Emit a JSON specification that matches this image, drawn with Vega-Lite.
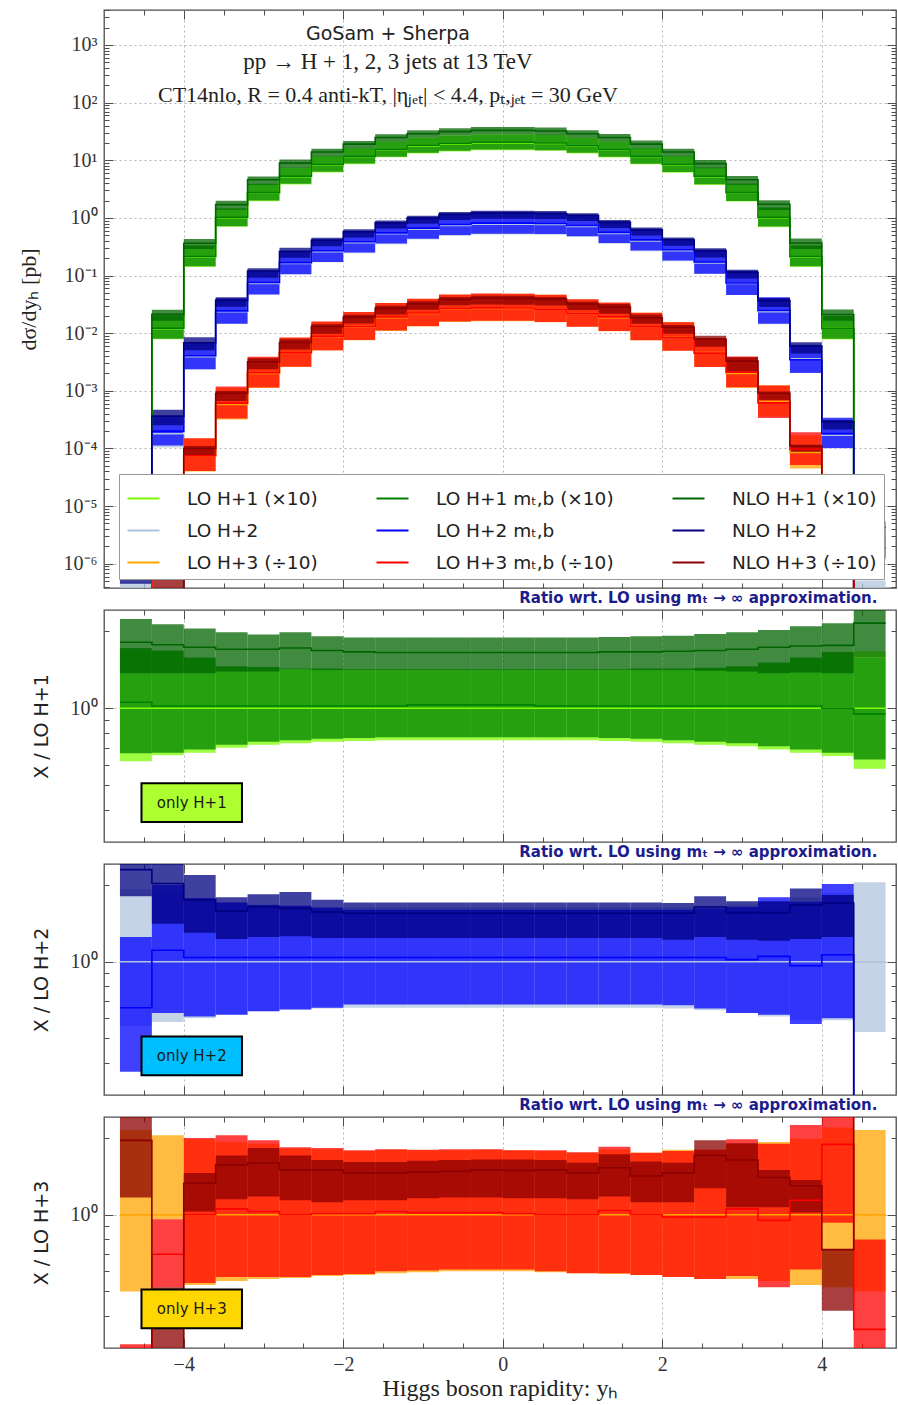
{
  "$schema": "https://vega.github.io/schema/vega-lite/v6.json",
  "background": "white",
  "padding": {"left": 16, "top": 8, "right": 2, "bottom": 2},
  "bounds": "flush",
  "spacing": 22,
  "config": {
    "view": {"stroke": "#4d4d4d", "strokeWidth": 1.3},
    "axis": {"domain": false, "tickColor": "#4d4d4d", "tickWidth": 1, "gridColor": "#b5b5b5", "gridDash": [2, 3], "gridWidth": 1, "labelFont": "Liberation Serif", "labelFontSize": 20, "labelColor": "#333333", "titleFontWeight": "normal", "titleColor": "#222222", "labelOverlap": false},
    "text": {"color": "#222222"}
  },
  "resolve": {"scale": {"color": "independent", "fill": "independent", "fillOpacity": "independent"}, "legend": {"color": "independent"}},
  "datasets": {
    "h": [
      {"k":"LO1","x0":-4.8,"x1":-4.4,"lo":1.24e-6,"c":2e-6,"hi":3.4e-6,"rlo":0.62,"rc":1,"rhi":1.7},
      {"k":"LO1","x0":-4.4,"x1":-4,"lo":0.00786,"c":0.012,"hi":0.02,"rlo":0.655,"rc":1,"rhi":1.67},
      {"k":"LO1","x0":-4,"x1":-3.6,"lo":0.141,"c":0.21,"hi":0.33,"rlo":0.67,"rc":1,"rhi":1.57},
      {"k":"LO1","x0":-3.6,"x1":-3.2,"lo":0.7,"c":1,"hi":1.45,"rlo":0.7,"rc":1,"rhi":1.45},
      {"k":"LO1","x0":-3.2,"x1":-2.8,"lo":1.94,"c":2.7,"hi":3.89,"rlo":0.72,"rc":1,"rhi":1.44},
      {"k":"LO1","x0":-2.8,"x1":-2.4,"lo":3.8,"c":5.2,"hi":7.38,"rlo":0.73,"rc":1,"rhi":1.42},
      {"k":"LO1","x0":-2.4,"x1":-2,"lo":6.14,"c":8.3,"hi":11.8,"rlo":0.74,"rc":1,"rhi":1.42},
      {"k":"LO1","x0":-2,"x1":-1.6,"lo":8.57,"c":11.5,"hi":16.2,"rlo":0.745,"rc":1,"rhi":1.41},
      {"k":"LO1","x0":-1.6,"x1":-1.2,"lo":11.25,"c":15,"hi":21.2,"rlo":0.75,"rc":1,"rhi":1.41},
      {"k":"LO1","x0":-1.2,"x1":-0.8,"lo":13.1,"c":17.5,"hi":24.7,"rlo":0.75,"rc":1,"rhi":1.41},
      {"k":"LO1","x0":-0.8,"x1":-0.4,"lo":14.25,"c":19,"hi":26.8,"rlo":0.75,"rc":1,"rhi":1.41},
      {"k":"LO1","x0":-0.4,"x1":0,"lo":15,"c":20,"hi":28.2,"rlo":0.75,"rc":1,"rhi":1.41},
      {"k":"LO1","x0":0,"x1":0.4,"lo":15,"c":20,"hi":28.2,"rlo":0.75,"rc":1,"rhi":1.41},
      {"k":"LO1","x0":0.4,"x1":0.8,"lo":14.6,"c":19.5,"hi":27.5,"rlo":0.75,"rc":1,"rhi":1.41},
      {"k":"LO1","x0":0.8,"x1":1.2,"lo":13.1,"c":17.5,"hi":24.7,"rlo":0.75,"rc":1,"rhi":1.41},
      {"k":"LO1","x0":1.2,"x1":1.6,"lo":11.2,"c":15,"hi":21.2,"rlo":0.745,"rc":1,"rhi":1.41},
      {"k":"LO1","x0":1.6,"x1":2,"lo":8.51,"c":11.5,"hi":16.3,"rlo":0.74,"rc":1,"rhi":1.42},
      {"k":"LO1","x0":2,"x1":2.4,"lo":6.06,"c":8.3,"hi":11.8,"rlo":0.73,"rc":1,"rhi":1.42},
      {"k":"LO1","x0":2.4,"x1":2.8,"lo":3.74,"c":5.2,"hi":7.44,"rlo":0.72,"rc":1,"rhi":1.43},
      {"k":"LO1","x0":2.8,"x1":3.2,"lo":1.92,"c":2.7,"hi":3.92,"rlo":0.71,"rc":1,"rhi":1.45},
      {"k":"LO1","x0":3.2,"x1":3.6,"lo":0.69,"c":1,"hi":1.5,"rlo":0.69,"rc":1,"rhi":1.5},
      {"k":"LO1","x0":3.6,"x1":4,"lo":0.141,"c":0.21,"hi":0.33,"rlo":0.67,"rc":1,"rhi":1.57},
      {"k":"LO1","x0":4,"x1":4.4,"lo":0.0078,"c":0.012,"hi":0.0198,"rlo":0.65,"rc":1,"rhi":1.65},
      {"k":"LO1","x0":4.4,"x1":4.8,"lo":1.16e-6,"c":2e-6,"hi":3.3e-6,"rlo":0.58,"rc":1,"rhi":1.67},

      {"k":"MT1","x0":-4.8,"x1":-4.4,"lo":1.33e-6,"c":2.11e-6,"hi":3.44e-6,"rlo":0.667,"rc":1.055,"rhi":1.72},
      {"k":"MT1","x0":-4.4,"x1":-4,"lo":0.00804,"c":0.01224,"hi":0.0202,"rlo":0.67,"rc":1.02,"rhi":1.68},
      {"k":"MT1","x0":-4,"x1":-3.6,"lo":0.145,"c":0.214,"hi":0.332,"rlo":0.69,"rc":1.02,"rhi":1.58},
      {"k":"MT1","x0":-3.6,"x1":-3.2,"lo":0.72,"c":1.02,"hi":1.46,"rlo":0.72,"rc":1.02,"rhi":1.46},
      {"k":"MT1","x0":-3.2,"x1":-2.8,"lo":2,"c":2.75,"hi":3.92,"rlo":0.74,"rc":1.02,"rhi":1.45},
      {"k":"MT1","x0":-2.8,"x1":-2.4,"lo":3.9,"c":5.3,"hi":7.44,"rlo":0.75,"rc":1.02,"rhi":1.43},
      {"k":"MT1","x0":-2.4,"x1":-2,"lo":6.31,"c":8.47,"hi":11.9,"rlo":0.76,"rc":1.02,"rhi":1.43},
      {"k":"MT1","x0":-2,"x1":-1.6,"lo":8.8,"c":11.7,"hi":16.3,"rlo":0.765,"rc":1.02,"rhi":1.42},
      {"k":"MT1","x0":-1.6,"x1":-1.2,"lo":11.55,"c":15.3,"hi":21.3,"rlo":0.77,"rc":1.02,"rhi":1.42},
      {"k":"MT1","x0":-1.2,"x1":-0.8,"lo":13.5,"c":18,"hi":24.9,"rlo":0.77,"rc":1.03,"rhi":1.42},
      {"k":"MT1","x0":-0.8,"x1":-0.4,"lo":14.6,"c":19.6,"hi":27,"rlo":0.77,"rc":1.03,"rhi":1.42},
      {"k":"MT1","x0":-0.4,"x1":0,"lo":15.4,"c":20.6,"hi":28.4,"rlo":0.77,"rc":1.03,"rhi":1.42},
      {"k":"MT1","x0":0,"x1":0.4,"lo":15.4,"c":20.6,"hi":28.4,"rlo":0.77,"rc":1.03,"rhi":1.42},
      {"k":"MT1","x0":0.4,"x1":0.8,"lo":15,"c":19.9,"hi":27.7,"rlo":0.77,"rc":1.02,"rhi":1.42},
      {"k":"MT1","x0":0.8,"x1":1.2,"lo":13.5,"c":17.9,"hi":24.9,"rlo":0.77,"rc":1.02,"rhi":1.42},
      {"k":"MT1","x0":1.2,"x1":1.6,"lo":11.5,"c":15.3,"hi":21.3,"rlo":0.765,"rc":1.02,"rhi":1.42},
      {"k":"MT1","x0":1.6,"x1":2,"lo":8.74,"c":11.7,"hi":16.4,"rlo":0.76,"rc":1.02,"rhi":1.43},
      {"k":"MT1","x0":2,"x1":2.4,"lo":6.23,"c":8.47,"hi":11.9,"rlo":0.75,"rc":1.02,"rhi":1.43},
      {"k":"MT1","x0":2.4,"x1":2.8,"lo":3.85,"c":5.3,"hi":7.49,"rlo":0.74,"rc":1.02,"rhi":1.44},
      {"k":"MT1","x0":2.8,"x1":3.2,"lo":1.97,"c":2.75,"hi":3.94,"rlo":0.73,"rc":1.02,"rhi":1.46},
      {"k":"MT1","x0":3.2,"x1":3.6,"lo":0.71,"c":1.02,"hi":1.51,"rlo":0.71,"rc":1.02,"rhi":1.51},
      {"k":"MT1","x0":3.6,"x1":4,"lo":0.145,"c":0.214,"hi":0.332,"rlo":0.69,"rc":1.02,"rhi":1.58},
      {"k":"MT1","x0":4,"x1":4.4,"lo":0.00804,"c":0.012,"hi":0.0199,"rlo":0.67,"rc":1,"rhi":1.66},
      {"k":"MT1","x0":4.4,"x1":4.8,"lo":1.26e-6,"c":1.9e-6,"hi":3.16e-6,"rlo":0.63,"rc":0.95,"rhi":1.58},

      {"k":"NLO1","x0":-4.8,"x1":-4.4,"lo":2.74e-6,"c":3.62e-6,"hi":4.46e-6,"rlo":1.37,"rc":1.81,"rhi":2.23},
      {"k":"NLO1","x0":-4.4,"x1":-4,"lo":0.0164,"c":0.0212,"hi":0.0256,"rlo":1.37,"rc":1.77,"rhi":2.13},
      {"k":"NLO1","x0":-4,"x1":-3.6,"lo":0.288,"c":0.363,"hi":0.43,"rlo":1.37,"rc":1.73,"rhi":2.05},
      {"k":"NLO1","x0":-3.6,"x1":-3.2,"lo":1.39,"c":1.7,"hi":1.98,"rlo":1.39,"rc":1.7,"rhi":1.98},
      {"k":"NLO1","x0":-3.2,"x1":-2.8,"lo":3.75,"c":4.59,"hi":5.24,"rlo":1.39,"rc":1.7,"rhi":1.94},
      {"k":"NLO1","x0":-2.8,"x1":-2.4,"lo":7.38,"c":8.94,"hi":10.3,"rlo":1.42,"rc":1.72,"rhi":1.98},
      {"k":"NLO1","x0":-2.4,"x1":-2,"lo":11.7,"c":13.9,"hi":15.9,"rlo":1.41,"rc":1.68,"rhi":1.91},
      {"k":"NLO1","x0":-2,"x1":-1.6,"lo":16.2,"c":19.1,"hi":21.7,"rlo":1.41,"rc":1.66,"rhi":1.89},
      {"k":"NLO1","x0":-1.6,"x1":-1.2,"lo":21.2,"c":24.8,"hi":28.4,"rlo":1.41,"rc":1.65,"rhi":1.89},
      {"k":"NLO1","x0":-1.2,"x1":-0.8,"lo":24.7,"c":28.9,"hi":33.1,"rlo":1.41,"rc":1.65,"rhi":1.89},
      {"k":"NLO1","x0":-0.8,"x1":-0.4,"lo":26.8,"c":31.4,"hi":35.9,"rlo":1.41,"rc":1.65,"rhi":1.89},
      {"k":"NLO1","x0":-0.4,"x1":0,"lo":28.2,"c":33,"hi":37.8,"rlo":1.41,"rc":1.65,"rhi":1.89},
      {"k":"NLO1","x0":0,"x1":0.4,"lo":28.2,"c":33,"hi":37.8,"rlo":1.41,"rc":1.65,"rhi":1.89},
      {"k":"NLO1","x0":0.4,"x1":0.8,"lo":27.5,"c":32.2,"hi":36.9,"rlo":1.41,"rc":1.65,"rhi":1.89},
      {"k":"NLO1","x0":0.8,"x1":1.2,"lo":24.7,"c":28.9,"hi":33.1,"rlo":1.41,"rc":1.65,"rhi":1.89},
      {"k":"NLO1","x0":1.2,"x1":1.6,"lo":21.2,"c":24.9,"hi":28.5,"rlo":1.41,"rc":1.66,"rhi":1.9},
      {"k":"NLO1","x0":1.6,"x1":2,"lo":16.2,"c":19.1,"hi":22,"rlo":1.41,"rc":1.66,"rhi":1.91},
      {"k":"NLO1","x0":2,"x1":2.4,"lo":11.7,"c":13.9,"hi":15.9,"rlo":1.41,"rc":1.67,"rhi":1.92},
      {"k":"NLO1","x0":2.4,"x1":2.8,"lo":7.28,"c":8.74,"hi":10.1,"rlo":1.4,"rc":1.68,"rhi":1.95},
      {"k":"NLO1","x0":2.8,"x1":3.2,"lo":3.75,"c":4.59,"hi":5.35,"rlo":1.39,"rc":1.7,"rhi":1.98},
      {"k":"NLO1","x0":3.2,"x1":3.6,"lo":1.37,"c":1.73,"hi":2.02,"rlo":1.37,"rc":1.73,"rhi":2.02},
      {"k":"NLO1","x0":3.6,"x1":4,"lo":0.29,"c":0.368,"hi":0.439,"rlo":1.38,"rc":1.75,"rhi":2.09},
      {"k":"NLO1","x0":4,"x1":4.4,"lo":0.0164,"c":0.0211,"hi":0.0258,"rlo":1.37,"rc":1.76,"rhi":2.15},
      {"k":"NLO1","x0":4.4,"x1":4.8,"lo":3.16e-6,"c":4.3e-6,"hi":5.4e-6,"rlo":1.58,"rc":2.15,"rhi":2.7},

      {"k":"LO2","x0":-4.8,"x1":-4.4,"lo":1.4e-7,"c":2.5e-7,"hi":4.83e-7,"rlo":0.56,"rc":1,"rhi":1.93},
      {"k":"LO2","x0":-4.4,"x1":-4,"lo":1.04e-4,"c":1.8e-4,"hi":3.35e-4,"rlo":0.58,"rc":1,"rhi":1.86},
      {"k":"LO2","x0":-4,"x1":-3.6,"lo":0.00234,"c":0.0039,"hi":0.00683,"rlo":0.6,"rc":1,"rhi":1.75},
      {"k":"LO2","x0":-3.6,"x1":-3.2,"lo":0.0146,"c":0.0235,"hi":0.0402,"rlo":0.62,"rc":1,"rhi":1.71},
      {"k":"LO2","x0":-3.2,"x1":-2.8,"lo":0.0467,"c":0.073,"hi":0.123,"rlo":0.64,"rc":1,"rhi":1.68},
      {"k":"LO2","x0":-2.8,"x1":-2.4,"lo":0.105,"c":0.162,"hi":0.269,"rlo":0.65,"rc":1,"rhi":1.66},
      {"k":"LO2","x0":-2.4,"x1":-2,"lo":0.17,"c":0.26,"hi":0.426,"rlo":0.655,"rc":1,"rhi":1.64},
      {"k":"LO2","x0":-2,"x1":-1.6,"lo":0.244,"c":0.37,"hi":0.607,"rlo":0.66,"rc":1,"rhi":1.64},
      {"k":"LO2","x0":-1.6,"x1":-1.2,"lo":0.35,"c":0.53,"hi":0.869,"rlo":0.66,"rc":1,"rhi":1.64},
      {"k":"LO2","x0":-1.2,"x1":-0.8,"lo":0.422,"c":0.64,"hi":1.05,"rlo":0.66,"rc":1,"rhi":1.64},
      {"k":"LO2","x0":-0.8,"x1":-0.4,"lo":0.488,"c":0.74,"hi":1.21,"rlo":0.66,"rc":1,"rhi":1.64},
      {"k":"LO2","x0":-0.4,"x1":0,"lo":0.515,"c":0.78,"hi":1.28,"rlo":0.66,"rc":1,"rhi":1.64},
      {"k":"LO2","x0":0,"x1":0.4,"lo":0.515,"c":0.78,"hi":1.28,"rlo":0.66,"rc":1,"rhi":1.64},
      {"k":"LO2","x0":0.4,"x1":0.8,"lo":0.508,"c":0.77,"hi":1.26,"rlo":0.66,"rc":1,"rhi":1.64},
      {"k":"LO2","x0":0.8,"x1":1.2,"lo":0.469,"c":0.71,"hi":1.16,"rlo":0.66,"rc":1,"rhi":1.64},
      {"k":"LO2","x0":1.2,"x1":1.6,"lo":0.356,"c":0.54,"hi":0.886,"rlo":0.66,"rc":1,"rhi":1.64},
      {"k":"LO2","x0":1.6,"x1":2,"lo":0.264,"c":0.4,"hi":0.656,"rlo":0.66,"rc":1,"rhi":1.64},
      {"k":"LO2","x0":2,"x1":2.4,"lo":0.177,"c":0.27,"hi":0.443,"rlo":0.655,"rc":1,"rhi":1.64},
      {"k":"LO2","x0":2.4,"x1":2.8,"lo":0.106,"c":0.165,"hi":0.274,"rlo":0.645,"rc":1,"rhi":1.66},
      {"k":"LO2","x0":2.8,"x1":3.2,"lo":0.046,"c":0.073,"hi":0.123,"rlo":0.63,"rc":1,"rhi":1.68},
      {"k":"LO2","x0":3.2,"x1":3.6,"lo":0.0143,"c":0.0235,"hi":0.0404,"rlo":0.61,"rc":1,"rhi":1.72},
      {"k":"LO2","x0":3.6,"x1":4,"lo":0.00212,"c":0.0036,"hi":0.00644,"rlo":0.59,"rc":1,"rhi":1.79},
      {"k":"LO2","x0":4,"x1":4.4,"lo":1.0e-4,"c":1.7e-4,"hi":3.16e-4,"rlo":0.59,"rc":1,"rhi":1.86},
      {"k":"LO2","x0":4.4,"x1":4.8,"lo":1.33e-7,"c":2.5e-7,"hi":5.13e-7,"rlo":0.53,"rc":1,"rhi":2.05},

      {"k":"MT2","x0":-4.8,"x1":-4.4,"lo":9.3e-8,"c":1.65e-7,"hi":3.1e-7,"rlo":0.37,"rc":0.66,"rhi":1.25},
      {"k":"MT2","x0":-4.4,"x1":-4,"lo":1.13e-4,"c":2.0e-4,"hi":3.6e-4,"rlo":0.63,"rc":1.11,"rhi":2.0},
      {"k":"MT2","x0":-4,"x1":-3.6,"lo":0.00238,"c":0.00406,"hi":0.00694,"rlo":0.61,"rc":1.04,"rhi":1.78},
      {"k":"MT2","x0":-3.6,"x1":-3.2,"lo":0.0146,"c":0.0244,"hi":0.0402,"rlo":0.62,"rc":1.04,"rhi":1.71},
      {"k":"MT2","x0":-3.2,"x1":-2.8,"lo":0.0467,"c":0.0759,"hi":0.122,"rlo":0.64,"rc":1.04,"rhi":1.67},
      {"k":"MT2","x0":-2.8,"x1":-2.4,"lo":0.105,"c":0.168,"hi":0.269,"rlo":0.65,"rc":1.04,"rhi":1.66},
      {"k":"MT2","x0":-2.4,"x1":-2,"lo":0.172,"c":0.27,"hi":0.424,"rlo":0.66,"rc":1.04,"rhi":1.63},
      {"k":"MT2","x0":-2,"x1":-1.6,"lo":0.252,"c":0.385,"hi":0.592,"rlo":0.68,"rc":1.04,"rhi":1.6},
      {"k":"MT2","x0":-1.6,"x1":-1.2,"lo":0.36,"c":0.551,"hi":0.848,"rlo":0.68,"rc":1.04,"rhi":1.6},
      {"k":"MT2","x0":-1.2,"x1":-0.8,"lo":0.435,"c":0.666,"hi":1.02,"rlo":0.68,"rc":1.04,"rhi":1.6},
      {"k":"MT2","x0":-0.8,"x1":-0.4,"lo":0.503,"c":0.77,"hi":1.18,"rlo":0.68,"rc":1.04,"rhi":1.6},
      {"k":"MT2","x0":-0.4,"x1":0,"lo":0.53,"c":0.811,"hi":1.25,"rlo":0.68,"rc":1.04,"rhi":1.6},
      {"k":"MT2","x0":0,"x1":0.4,"lo":0.53,"c":0.811,"hi":1.25,"rlo":0.68,"rc":1.04,"rhi":1.6},
      {"k":"MT2","x0":0.4,"x1":0.8,"lo":0.524,"c":0.801,"hi":1.23,"rlo":0.68,"rc":1.04,"rhi":1.6},
      {"k":"MT2","x0":0.8,"x1":1.2,"lo":0.483,"c":0.738,"hi":1.14,"rlo":0.68,"rc":1.04,"rhi":1.6},
      {"k":"MT2","x0":1.2,"x1":1.6,"lo":0.367,"c":0.562,"hi":0.864,"rlo":0.68,"rc":1.04,"rhi":1.6},
      {"k":"MT2","x0":1.6,"x1":2,"lo":0.272,"c":0.416,"hi":0.64,"rlo":0.68,"rc":1.04,"rhi":1.6},
      {"k":"MT2","x0":2,"x1":2.4,"lo":0.182,"c":0.281,"hi":0.432,"rlo":0.675,"rc":1.04,"rhi":1.6},
      {"k":"MT2","x0":2.4,"x1":2.8,"lo":0.108,"c":0.172,"hi":0.267,"rlo":0.655,"rc":1.04,"rhi":1.62},
      {"k":"MT2","x0":2.8,"x1":3.2,"lo":0.046,"c":0.0745,"hi":0.12,"rlo":0.63,"rc":1.02,"rhi":1.64},
      {"k":"MT2","x0":3.2,"x1":3.6,"lo":0.0146,"c":0.0247,"hi":0.0421,"rlo":0.62,"rc":1.05,"rhi":1.79},
      {"k":"MT2","x0":3.6,"x1":4,"lo":0.00205,"c":0.00347,"hi":0.00619,"rlo":0.57,"rc":0.965,"rhi":1.72},
      {"k":"MT2","x0":4,"x1":4.4,"lo":1.02e-4,"c":1.81e-4,"hi":3.43e-4,"rlo":0.6,"rc":1.065,"rhi":2.02},
      {"k":"MT2","x0":4.4,"x1":4.8,"lo":1e-9,"c":1e-9,"hi":1e-9,"rlo":0.01,"rc":0.01,"rhi":0.01},

      {"k":"NLO2","x0":-4.8,"x1":-4.4,"lo":4.5e-7,"c":5.75e-7,"hi":6.5e-7,"rlo":1.81,"rc":2.3,"rhi":2.6},
      {"k":"NLO2","x0":-4.4,"x1":-4,"lo":2.54e-4,"c":3.65e-4,"hi":4.68e-4,"rlo":1.41,"rc":2.03,"rhi":2.6},
      {"k":"NLO2","x0":-4,"x1":-3.6,"lo":0.00507,"c":0.00683,"hi":0.00854,"rlo":1.3,"rc":1.75,"rhi":2.19},
      {"k":"NLO2","x0":-3.6,"x1":-3.2,"lo":0.0289,"c":0.0371,"hi":0.0421,"rlo":1.23,"rc":1.58,"rhi":1.79},
      {"k":"NLO2","x0":-3.2,"x1":-2.8,"lo":0.0913,"c":0.12,"hi":0.134,"rlo":1.25,"rc":1.64,"rhi":1.84},
      {"k":"NLO2","x0":-2.8,"x1":-2.4,"lo":0.204,"c":0.262,"hi":0.305,"rlo":1.26,"rc":1.62,"rhi":1.88},
      {"k":"NLO2","x0":-2.4,"x1":-2,"lo":0.322,"c":0.408,"hi":0.455,"rlo":1.24,"rc":1.57,"rhi":1.75},
      {"k":"NLO2","x0":-2,"x1":-1.6,"lo":0.459,"c":0.574,"hi":0.633,"rlo":1.24,"rc":1.55,"rhi":1.71},
      {"k":"NLO2","x0":-1.6,"x1":-1.2,"lo":0.657,"c":0.822,"hi":0.906,"rlo":1.24,"rc":1.55,"rhi":1.71},
      {"k":"NLO2","x0":-1.2,"x1":-0.8,"lo":0.794,"c":0.992,"hi":1.09,"rlo":1.24,"rc":1.55,"rhi":1.71},
      {"k":"NLO2","x0":-0.8,"x1":-0.4,"lo":0.918,"c":1.15,"hi":1.27,"rlo":1.24,"rc":1.55,"rhi":1.71},
      {"k":"NLO2","x0":-0.4,"x1":0,"lo":0.967,"c":1.21,"hi":1.33,"rlo":1.24,"rc":1.55,"rhi":1.71},
      {"k":"NLO2","x0":0,"x1":0.4,"lo":0.967,"c":1.21,"hi":1.33,"rlo":1.24,"rc":1.55,"rhi":1.71},
      {"k":"NLO2","x0":0.4,"x1":0.8,"lo":0.955,"c":1.19,"hi":1.32,"rlo":1.24,"rc":1.55,"rhi":1.71},
      {"k":"NLO2","x0":0.8,"x1":1.2,"lo":0.88,"c":1.1,"hi":1.21,"rlo":1.24,"rc":1.55,"rhi":1.71},
      {"k":"NLO2","x0":1.2,"x1":1.6,"lo":0.67,"c":0.837,"hi":0.923,"rlo":1.24,"rc":1.55,"rhi":1.71},
      {"k":"NLO2","x0":1.6,"x1":2,"lo":0.496,"c":0.62,"hi":0.684,"rlo":1.24,"rc":1.55,"rhi":1.71},
      {"k":"NLO2","x0":2,"x1":2.4,"lo":0.329,"c":0.419,"hi":0.459,"rlo":1.22,"rc":1.55,"rhi":1.7},
      {"k":"NLO2","x0":2.4,"x1":2.8,"lo":0.206,"c":0.271,"hi":0.299,"rlo":1.25,"rc":1.64,"rhi":1.81},
      {"k":"NLO2","x0":2.8,"x1":3.2,"lo":0.0891,"c":0.114,"hi":0.126,"rlo":1.22,"rc":1.56,"rhi":1.73},
      {"k":"NLO2","x0":3.2,"x1":3.6,"lo":0.0284,"c":0.0367,"hi":0.0407,"rlo":1.21,"rc":1.56,"rhi":1.73},
      {"k":"NLO2","x0":3.6,"x1":4,"lo":0.00443,"c":0.00601,"hi":0.00698,"rlo":1.23,"rc":1.67,"rhi":1.94},
      {"k":"NLO2","x0":4,"x1":4.4,"lo":2.13e-4,"c":2.89e-4,"hi":3.11e-4,"rlo":1.25,"rc":1.7,"rhi":1.83},
      {"k":"NLO2","x0":4.4,"x1":4.8,"lo":1e-9,"c":1e-9,"hi":1e-9,"rlo":0.01,"rc":0.01,"rhi":0.01},

      {"k":"LO3","x0":-4.8,"x1":-4.4,"lo":5e-8,"c":1e-7,"hi":2.15e-7,"rlo":0.5,"rc":1,"rhi":2.15},
      {"k":"LO3","x0":-4.4,"x1":-4,"lo":1.06e-6,"c":1.1e-6,"hi":2.26e-6,"rlo":0.96,"rc":1,"rhi":2.05},
      {"k":"LO3","x0":-4,"x1":-3.6,"lo":3.98e-5,"c":7.5e-5,"hi":1.49e-4,"rlo":0.53,"rc":1,"rhi":1.98},
      {"k":"LO3","x0":-3.6,"x1":-3.2,"lo":3.19e-4,"c":5.8e-4,"hi":1.12e-3,"rlo":0.55,"rc":1,"rhi":1.93},
      {"k":"LO3","x0":-3.2,"x1":-2.8,"lo":1.12e-3,"c":2.0e-3,"hi":3.8e-3,"rlo":0.56,"rc":1,"rhi":1.9},
      {"k":"LO3","x0":-2.8,"x1":-2.4,"lo":2.6e-3,"c":4.6e-3,"hi":8.37e-3,"rlo":0.565,"rc":1,"rhi":1.82},
      {"k":"LO3","x0":-2.4,"x1":-2,"lo":5.0e-3,"c":8.7e-3,"hi":0.01575,"rlo":0.575,"rc":1,"rhi":1.81},
      {"k":"LO3","x0":-2,"x1":-1.6,"lo":7.54e-3,"c":0.013,"hi":0.0231,"rlo":0.58,"rc":1,"rhi":1.78},
      {"k":"LO3","x0":-1.6,"x1":-1.2,"lo":0.0109,"c":0.0185,"hi":0.0333,"rlo":0.59,"rc":1,"rhi":1.8},
      {"k":"LO3","x0":-1.2,"x1":-0.8,"lo":0.0131,"c":0.022,"hi":0.0394,"rlo":0.595,"rc":1,"rhi":1.79},
      {"k":"LO3","x0":-0.8,"x1":-0.4,"lo":0.0156,"c":0.026,"hi":0.0465,"rlo":0.6,"rc":1,"rhi":1.79},
      {"k":"LO3","x0":-0.4,"x1":0,"lo":0.0162,"c":0.027,"hi":0.0486,"rlo":0.6,"rc":1,"rhi":1.8},
      {"k":"LO3","x0":0,"x1":0.4,"lo":0.0162,"c":0.027,"hi":0.0483,"rlo":0.6,"rc":1,"rhi":1.79},
      {"k":"LO3","x0":0.4,"x1":0.8,"lo":0.0155,"c":0.026,"hi":0.0463,"rlo":0.595,"rc":1,"rhi":1.78},
      {"k":"LO3","x0":0.8,"x1":1.2,"lo":0.013,"c":0.022,"hi":0.0385,"rlo":0.59,"rc":1,"rhi":1.75},
      {"k":"LO3","x0":1.2,"x1":1.6,"lo":0.0108,"c":0.0185,"hi":0.0333,"rlo":0.585,"rc":1,"rhi":1.8},
      {"k":"LO3","x0":1.6,"x1":2,"lo":7.54e-3,"c":0.013,"hi":0.02275,"rlo":0.58,"rc":1,"rhi":1.75},
      {"k":"LO3","x0":2,"x1":2.4,"lo":4.96e-3,"c":0.0087,"hi":0.01566,"rlo":0.57,"rc":1,"rhi":1.8},
      {"k":"LO3","x0":2.4,"x1":2.8,"lo":2.58e-3,"c":0.0046,"hi":8.28e-3,"rlo":0.56,"rc":1,"rhi":1.8},
      {"k":"LO3","x0":2.8,"x1":3.2,"lo":1.12e-3,"c":0.002,"hi":3.8e-3,"rlo":0.56,"rc":1,"rhi":1.9},
      {"k":"LO3","x0":3.2,"x1":3.6,"lo":3.58e-4,"c":6.5e-4,"hi":1.25e-3,"rlo":0.55,"rc":1,"rhi":1.93},
      {"k":"LO3","x0":3.6,"x1":4,"lo":4.5e-5,"c":8.5e-5,"hi":1.69e-4,"rlo":0.53,"rc":1,"rhi":1.99},
      {"k":"LO3","x0":4,"x1":4.4,"lo":2.6e-6,"c":5e-6,"hi":1.1e-5,"rlo":0.52,"rc":1,"rhi":2.2},
      {"k":"LO3","x0":4.4,"x1":4.8,"lo":2.5e-8,"c":5e-8,"hi":1.08e-7,"rlo":0.5,"rc":1,"rhi":2.15},

      {"k":"MT3","x0":-4.8,"x1":-4.4,"lo":5e-9,"c":1e-8,"hi":3.1e-8,"rlo":0.05,"rc":0.1,"rhi":0.31},
      {"k":"MT3","x0":-4.4,"x1":-4,"lo":5.7e-7,"c":7.7e-7,"hi":1.06e-6,"rlo":0.52,"rc":0.7,"rhi":0.96},
      {"k":"MT3","x0":-4,"x1":-3.6,"lo":4.05e-5,"c":7.5e-5,"hi":1.5e-4,"rlo":0.54,"rc":1,"rhi":2},
      {"k":"MT3","x0":-3.6,"x1":-3.2,"lo":3.31e-4,"c":6.12e-4,"hi":1.19e-3,"rlo":0.57,"rc":1.055,"rhi":2.05},
      {"k":"MT3","x0":-3.2,"x1":-2.8,"lo":1.14e-3,"c":2.06e-3,"hi":3.92e-3,"rlo":0.57,"rc":1.03,"rhi":1.96},
      {"k":"MT3","x0":-2.8,"x1":-2.4,"lo":2.62e-3,"c":4.6e-3,"hi":8.46e-3,"rlo":0.57,"rc":1,"rhi":1.84},
      {"k":"MT3","x0":-2.4,"x1":-2,"lo":5.05e-3,"c":8.79e-3,"hi":0.0159,"rlo":0.58,"rc":1.01,"rhi":1.83},
      {"k":"MT3","x0":-2,"x1":-1.6,"lo":7.6e-3,"c":0.0131,"hi":0.0233,"rlo":0.585,"rc":1.01,"rhi":1.79},
      {"k":"MT3","x0":-1.6,"x1":-1.2,"lo":0.0111,"c":0.0191,"hi":0.0335,"rlo":0.6,"rc":1.03,"rhi":1.81},
      {"k":"MT3","x0":-1.2,"x1":-0.8,"lo":0.0133,"c":0.0224,"hi":0.0396,"rlo":0.605,"rc":1.02,"rhi":1.8},
      {"k":"MT3","x0":-0.8,"x1":-0.4,"lo":0.0159,"c":0.0265,"hi":0.0471,"rlo":0.61,"rc":1.02,"rhi":1.81},
      {"k":"MT3","x0":-0.4,"x1":0,"lo":0.0165,"c":0.0275,"hi":0.0489,"rlo":0.61,"rc":1.02,"rhi":1.81},
      {"k":"MT3","x0":0,"x1":0.4,"lo":0.0165,"c":0.0273,"hi":0.0483,"rlo":0.61,"rc":1.01,"rhi":1.79},
      {"k":"MT3","x0":0.4,"x1":0.8,"lo":0.0156,"c":0.026,"hi":0.0465,"rlo":0.6,"rc":1,"rhi":1.79},
      {"k":"MT3","x0":0.8,"x1":1.2,"lo":0.013,"c":0.022,"hi":0.0387,"rlo":0.59,"rc":1,"rhi":1.76},
      {"k":"MT3","x0":1.2,"x1":1.6,"lo":0.0109,"c":0.0192,"hi":0.0342,"rlo":0.59,"rc":1.04,"rhi":1.85},
      {"k":"MT3","x0":1.6,"x1":2,"lo":7.54e-3,"c":0.013,"hi":0.02275,"rlo":0.58,"rc":1,"rhi":1.75},
      {"k":"MT3","x0":2,"x1":2.4,"lo":4.96e-3,"c":8.53e-3,"hi":0.0155,"rlo":0.57,"rc":0.98,"rhi":1.78},
      {"k":"MT3","x0":2.4,"x1":2.8,"lo":2.58e-3,"c":4.51e-3,"hi":8.28e-3,"rlo":0.56,"rc":0.98,"rhi":1.8},
      {"k":"MT3","x0":2.8,"x1":3.2,"lo":1.15e-3,"c":2.11e-3,"hi":3.96e-3,"rlo":0.575,"rc":1.055,"rhi":1.98},
      {"k":"MT3","x0":3.2,"x1":3.6,"lo":3.38e-4,"c":6.18e-4,"hi":1.24e-3,"rlo":0.52,"rc":0.95,"rhi":1.9},
      {"k":"MT3","x0":3.6,"x1":4,"lo":5.19e-5,"c":9.69e-5,"hi":1.91e-4,"rlo":0.61,"rc":1.14,"rhi":2.25},
      {"k":"MT3","x0":4,"x1":4.4,"lo":4.65e-6,"c":9.45e-6,"hi":1.35e-5,"rlo":0.93,"rc":1.89,"rhi":2.7},
      {"k":"MT3","x0":4.4,"x1":4.8,"lo":5e-9,"c":1.8e-8,"hi":4e-8,"rlo":0.1,"rc":0.355,"rhi":0.8},

      {"k":"NLO3","x0":-4.8,"x1":-4.4,"lo":1.17e-7,"c":1.96e-7,"hi":2.7e-7,"rlo":1.17,"rc":1.96,"rhi":2.7},
      {"k":"NLO3","x0":-4.4,"x1":-4,"lo":5.5e-8,"c":1.1e-7,"hi":5.72e-7,"rlo":0.05,"rc":0.1,"rhi":0.52},
      {"k":"NLO3","x0":-4,"x1":-3.6,"lo":7.73e-5,"c":9.98e-5,"hi":1.1e-4,"rlo":1.03,"rc":1.33,"rhi":1.46},
      {"k":"NLO3","x0":-3.6,"x1":-3.2,"lo":6.67e-4,"c":9.11e-4,"hi":9.92e-4,"rlo":1.15,"rc":1.57,"rhi":1.71},
      {"k":"NLO3","x0":-3.2,"x1":-2.8,"lo":2.36e-3,"c":3.2e-3,"hi":3.66e-3,"rlo":1.18,"rc":1.6,"rhi":1.83},
      {"k":"NLO3","x0":-2.8,"x1":-2.4,"lo":5.24e-3,"c":6.9e-3,"hi":7.87e-3,"rlo":1.14,"rc":1.5,"rhi":1.71},
      {"k":"NLO3","x0":-2.4,"x1":-2,"lo":9.74e-3,"c":0.01305,"hi":0.01427,"rlo":1.12,"rc":1.5,"rhi":1.64},
      {"k":"NLO3","x0":-2,"x1":-1.6,"lo":0.0148,"c":0.019,"hi":0.0209,"rlo":1.14,"rc":1.46,"rhi":1.61},
      {"k":"NLO3","x0":-1.6,"x1":-1.2,"lo":0.0211,"c":0.027,"hi":0.0298,"rlo":1.14,"rc":1.46,"rhi":1.61},
      {"k":"NLO3","x0":-1.2,"x1":-0.8,"lo":0.0255,"c":0.0323,"hi":0.0359,"rlo":1.16,"rc":1.47,"rhi":1.63},
      {"k":"NLO3","x0":-0.8,"x1":-0.4,"lo":0.0304,"c":0.0385,"hi":0.0426,"rlo":1.17,"rc":1.48,"rhi":1.64},
      {"k":"NLO3","x0":-0.4,"x1":0,"lo":0.0316,"c":0.0405,"hi":0.0446,"rlo":1.17,"rc":1.5,"rhi":1.65},
      {"k":"NLO3","x0":0,"x1":0.4,"lo":0.0313,"c":0.0402,"hi":0.0446,"rlo":1.16,"rc":1.49,"rhi":1.65},
      {"k":"NLO3","x0":0.4,"x1":0.8,"lo":0.0302,"c":0.039,"hi":0.0426,"rlo":1.16,"rc":1.5,"rhi":1.64},
      {"k":"NLO3","x0":0.8,"x1":1.2,"lo":0.0253,"c":0.0321,"hi":0.0352,"rlo":1.15,"rc":1.46,"rhi":1.6},
      {"k":"NLO3","x0":1.2,"x1":1.6,"lo":0.0218,"c":0.0283,"hi":0.032,"rlo":1.18,"rc":1.53,"rhi":1.73},
      {"k":"NLO3","x0":1.6,"x1":2,"lo":0.0146,"c":0.0185,"hi":0.0211,"rlo":1.12,"rc":1.42,"rhi":1.62},
      {"k":"NLO3","x0":2,"x1":2.4,"lo":9.74e-3,"c":0.0127,"hi":0.01392,"rlo":1.12,"rc":1.46,"rhi":1.6},
      {"k":"NLO3","x0":2.4,"x1":2.8,"lo":5.84e-3,"c":7.87e-3,"hi":9.02e-3,"rlo":1.27,"rc":1.71,"rhi":1.96},
      {"k":"NLO3","x0":2.8,"x1":3.2,"lo":2.14e-3,"c":3.28e-3,"hi":3.82e-3,"rlo":1.07,"rc":1.64,"rhi":1.91},
      {"k":"NLO3","x0":3.2,"x1":3.6,"lo":6.96e-4,"c":9.1e-4,"hi":9.75e-4,"rlo":1.07,"rc":1.4,"rhi":1.5},
      {"k":"NLO3","x0":3.6,"x1":4,"lo":8.67e-5,"c":1.105e-4,"hi":1.16e-4,"rlo":1.02,"rc":1.3,"rhi":1.37},
      {"k":"NLO3","x0":4,"x1":4.4,"lo":2.1e-6,"c":3.65e-6,"hi":3.65e-6,"rlo":0.42,"rc":0.73,"rhi":0.73},
      {"k":"NLO3","x0":4.4,"x1":4.8,"lo":2.5e-7,"c":2.5e-7,"hi":2.5e-7,"rlo":5,"rc":5,"rhi":5}
    ]
  },
  "vconcat": [
    {
      "width": 792,
      "height": 578,
      "data": {"name": "h"},
      "resolve": {"axis": {"x": "independent", "y": "independent"}},
      "layer": [
        {
          "mark": {"type": "rect", "clip": true},
          "encoding": {
            "x": {"field": "x0", "type": "quantitative", "scale": {"domain": [-5, 4.93], "nice": false, "zero": false},
                  "axis": {"orient": "bottom", "values": [-4, -2, 0, 2, 4], "labels": false, "ticks": false, "grid": true, "title": null}},
            "x2": {"field": "x1"},
            "y": {"field": "lo", "type": "quantitative", "scale": {"type": "log", "domain": [3.8e-7, 4046], "nice": false},
                  "axis": {"orient": "left", "values": [1e-6, 1e-5, 1e-4, 1e-3, 0.01, 0.1, 1, 10, 100, 1000], "ticks": false, "grid": true, "labelPadding": 7,
                           "labelExpr": "['10⁻⁶','10⁻⁵','10⁻⁴','10⁻³','10⁻²','10⁻¹','10⁰','10¹','10²','10³'][round(log(datum.value)/LN10)+6]",
                           "title": "dσ/dyₕ [pb]", "titleFont": "Liberation Serif", "titleFontSize": 22, "titlePadding": 23}},
            "y2": {"field": "hi"},
            "fill": {"field": "k", "type": "nominal", "scale": {"domain": ["LO1","LO2","LO3","MT1","MT2","MT3","NLO1","NLO2","NLO3"], "range": ["#7cfc00","#b0c4de","#ffa500","#008000","#0000ff","#ff0000","#006400","#000080","#8b0000"]}, "legend": null},
            "fillOpacity": {"field": "k", "type": "ordinal", "scale": {"domain": ["NLO1","NLO2","NLO3","MT1","MT2","MT3","LO1","LO2","LO3"], "range": [0.75,0.75,0.75,0.75,0.75,0.75,0.6,0.6,0.6]}, "legend": null}
          }
        },
        {
          "transform": [{"fold": ["x0", "x1"], "as": ["edge", "xe"]}],
          "mark": {"type": "line", "clip": true, "strokeWidth": 1.6},
          "encoding": {
            "x": {"field": "xe", "type": "quantitative", "scale": {"domain": [-5, 4.93], "nice": false, "zero": false},
                  "axis": {"orient": "bottom", "values": [-4.5,-4,-3.5,-3,-2.5,-2,-1.5,-1,-0.5,0,0.5,1,1.5,2,2.5,3,3.5,4,4.5], "labels": false, "grid": false, "title": null,
                           "tickSize": {"condition": {"test": "datum.value % 2 === 0", "value": -9}, "value": -5}}},
            "y": {"field": "c", "type": "quantitative", "scale": {"type": "log", "domain": [3.8e-7, 4046], "nice": false},
                  "axis": {"orient": "left", "labels": false, "grid": false, "title": null,
                           "values": [4e-7,5e-7,6e-7,7e-7,8e-7,9e-7,1e-6,2e-6,3e-6,4e-6,5e-6,6e-6,7e-6,8e-6,9e-6,1e-5,2e-5,3e-5,4e-5,5e-5,6e-5,7e-5,8e-5,9e-5,1e-4,2e-4,3e-4,4e-4,5e-4,6e-4,7e-4,8e-4,9e-4,1e-3,2e-3,3e-3,4e-3,5e-3,6e-3,7e-3,8e-3,9e-3,0.01,0.02,0.03,0.04,0.05,0.06,0.07,0.08,0.09,0.1,0.2,0.3,0.4,0.5,0.6,0.7,0.8,0.9,1,2,3,4,5,6,7,8,9,10,20,30,40,50,60,70,80,90,100,200,300,400,500,600,700,800,900,1000,2000,3000,4000],
                           "tickSize": {"condition": {"test": "abs(log(datum.value)/LN10 - round(log(datum.value)/LN10)) < 0.01", "value": -9}, "value": -5}}},
            "color": {"field": "k", "type": "nominal", "scale": {"domain": ["LO1","MT1","NLO1","LO2","MT2","NLO2","LO3","MT3","NLO3"], "range": ["#7cfc00","#008000","#006400","#b0c4de","#0000ff","#000080","#ffa500","#ff0000","#8b0000"]},
                      "legend": {"orient": "none", "legendX": 15, "legendY": 464, "columns": 3, "direction": "horizontal", "title": null, "zindex": 1,
                                 "symbolType": "stroke", "symbolSize": 1024, "symbolStrokeWidth": 2.2,
                                 "labelFont": "DejaVu Sans", "labelFontSize": 18.5, "labelColor": "#222222", "labelOffset": 26, "labelLimit": 400,
                                 "fillColor": "white", "strokeColor": "#999999", "padding": 7, "rowPadding": 5, "columnPadding": 54,
                                 "labelExpr": "['LO H+1 (×10)','LO H+1 mₜ,b (×10)','NLO H+1 (×10)','LO H+2','LO H+2 mₜ,b','NLO H+2','LO H+3 (÷10)','LO H+3 mₜ,b (÷10)','NLO H+3 (÷10)'][indexof(['LO1','MT1','NLO1','LO2','MT2','NLO2','LO3','MT3','NLO3'], datum.label)]"}},
            "order": [{"field": "x0", "type": "quantitative"}, {"field": "edge", "type": "ordinal"}]
          }
        },
        {
          "data": {"values": [{}]},
          "mark": {"type": "text", "font": "DejaVu Sans", "fontSize": 19, "align": "center", "baseline": "middle"},
          "encoding": {
            "text": {"value": "GoSam + Sherpa"},
            "x": {"datum": -1.44, "type": "quantitative", "scale": {"domain": [-5, 4.93], "nice": false, "zero": false},
                  "axis": {"orient": "top", "values": [-4.5,-4,-3.5,-3,-2.5,-2,-1.5,-1,-0.5,0,0.5,1,1.5,2,2.5,3,3.5,4,4.5], "labels": false, "grid": false, "title": null,
                           "tickSize": {"condition": {"test": "datum.value % 2 === 0", "value": -9}, "value": -5}}},
            "y": {"datum": 1550, "type": "quantitative", "scale": {"type": "log", "domain": [3.8e-7, 4046], "nice": false},
                  "axis": {"orient": "right", "labels": false, "grid": false, "title": null,
                           "values": [4e-7,5e-7,6e-7,7e-7,8e-7,9e-7,1e-6,2e-6,3e-6,4e-6,5e-6,6e-6,7e-6,8e-6,9e-6,1e-5,2e-5,3e-5,4e-5,5e-5,6e-5,7e-5,8e-5,9e-5,1e-4,2e-4,3e-4,4e-4,5e-4,6e-4,7e-4,8e-4,9e-4,1e-3,2e-3,3e-3,4e-3,5e-3,6e-3,7e-3,8e-3,9e-3,0.01,0.02,0.03,0.04,0.05,0.06,0.07,0.08,0.09,0.1,0.2,0.3,0.4,0.5,0.6,0.7,0.8,0.9,1,2,3,4,5,6,7,8,9,10,20,30,40,50,60,70,80,90,100,200,300,400,500,600,700,800,900,1000,2000,3000,4000],
                           "tickSize": {"condition": {"test": "abs(log(datum.value)/LN10 - round(log(datum.value)/LN10)) < 0.01", "value": -9}, "value": -5}}}
          }
        },
        {
          "data": {"values": [{}]},
          "mark": {"type": "text", "font": "Liberation Serif", "fontSize": 23, "align": "center", "baseline": "middle"},
          "encoding": {
            "text": {"value": "pp → H + 1, 2, 3 jets at 13 TeV"},
            "x": {"datum": -1.44, "type": "quantitative", "scale": {"domain": [-5, 4.93], "nice": false, "zero": false}, "axis": null},
            "y": {"datum": 507, "type": "quantitative", "scale": {"type": "log", "domain": [3.8e-7, 4046], "nice": false}, "axis": null}
          }
        },
        {
          "data": {"values": [{}]},
          "mark": {"type": "text", "font": "Liberation Serif", "fontSize": 22, "align": "center", "baseline": "middle"},
          "encoding": {
            "text": {"value": "CT14nlo,  R = 0.4 anti-kT,  |ηⱼₑₜ| < 4.4,  pₜ,ⱼₑₜ = 30 GeV"},
            "x": {"datum": -1.44, "type": "quantitative", "scale": {"domain": [-5, 4.93], "nice": false, "zero": false}, "axis": null},
            "y": {"datum": 138, "type": "quantitative", "scale": {"type": "log", "domain": [3.8e-7, 4046], "nice": false}, "axis": null}
          }
        }
      ]
    },
    {
      "width": 792,
      "height": 232,
      "title": {"text": "Ratio wrt. LO using mₜ → ∞ approximation.", "anchor": "end", "color": "#1c1c8c", "fontSize": 15, "fontWeight": "bold", "font": "DejaVu Sans", "offset": 4, "dx": -19},
      "data": {"name": "h"},
      "transform": [{"filter": "test(/1$/, datum.k)"}],
      "resolve": {"axis": {"x": "independent", "y": "independent"}},
      "layer": [
        {
          "mark": {"type": "rect", "clip": true},
          "encoding": {
            "x": {"field": "x0", "type": "quantitative", "scale": {"domain": [-5, 4.93], "nice": false, "zero": false},
                  "axis": {"orient": "bottom", "values": [-4, -2, 0, 2, 4], "labels": false, "ticks": false, "grid": true, "title": null}},
            "x2": {"field": "x1"},
            "y": {"field": "rlo", "type": "quantitative", "scale": {"type": "log", "domain": [0.3, 2.42], "nice": false},
                  "axis": {"orient": "left", "values": [1], "ticks": false, "grid": true, "labelPadding": 7, "labelExpr": "'10⁰'",
                           "title": "X / LO H+1", "titleFont": "DejaVu Sans", "titleFontSize": 19, "titlePadding": 19}},
            "y2": {"field": "rhi"},
            "fill": {"field": "k", "type": "nominal", "scale": {"domain": ["LO1","LO2","LO3","MT1","MT2","MT3","NLO1","NLO2","NLO3"], "range": ["#7cfc00","#b0c4de","#ffa500","#008000","#0000ff","#ff0000","#006400","#000080","#8b0000"]}, "legend": null},
            "fillOpacity": {"field": "k", "type": "ordinal", "scale": {"domain": ["NLO1","NLO2","NLO3","MT1","MT2","MT3","LO1","LO2","LO3"], "range": [0.75,0.75,0.75,0.75,0.75,0.75,0.6,0.6,0.6]}, "legend": null}
          }
        },
        {
          "transform": [{"fold": ["x0", "x1"], "as": ["edge", "xe"]}],
          "mark": {"type": "line", "clip": true, "strokeWidth": 1.6},
          "encoding": {
            "x": {"field": "xe", "type": "quantitative", "scale": {"domain": [-5, 4.93], "nice": false, "zero": false},
                  "axis": {"orient": "bottom", "values": [-4.5,-4,-3.5,-3,-2.5,-2,-1.5,-1,-0.5,0,0.5,1,1.5,2,2.5,3,3.5,4,4.5], "labels": false, "grid": false, "title": null,
                           "tickSize": {"condition": {"test": "datum.value % 2 === 0", "value": -9}, "value": -5}}},
            "y": {"field": "rc", "type": "quantitative", "scale": {"type": "log", "domain": [0.3, 2.42], "nice": false},
                  "axis": {"orient": "left", "values": [0.4,0.5,0.6,0.7,0.8,0.9,1,2], "labels": false, "grid": false, "title": null,
                           "tickSize": {"condition": {"test": "datum.value === 1", "value": -9}, "value": -5}}},
            "color": {"field": "k", "type": "nominal", "scale": {"domain": ["LO1","MT1","NLO1","LO2","MT2","NLO2","LO3","MT3","NLO3"], "range": ["#7cfc00","#008000","#006400","#b0c4de","#0000ff","#000080","#ffa500","#ff0000","#8b0000"]}, "legend": null},
            "order": [{"field": "x0", "type": "quantitative"}, {"field": "edge", "type": "ordinal"}]
          }
        },
        {
          "data": {"values": [{}]},
          "mark": {"type": "rect", "fill": "#adff2f", "stroke": "#000000", "strokeWidth": 2},
          "encoding": {
            "x": {"datum": -4.53, "type": "quantitative", "scale": {"domain": [-5, 4.93], "nice": false, "zero": false},
                  "axis": {"orient": "top", "values": [-4.5,-4,-3.5,-3,-2.5,-2,-1.5,-1,-0.5,0,0.5,1,1.5,2,2.5,3,3.5,4,4.5], "labels": false, "grid": false, "title": null,
                           "tickSize": {"condition": {"test": "datum.value % 2 === 0", "value": -9}, "value": -5}}},
            "x2": {"datum": -3.27},
            "y": {"datum": 0.509, "type": "quantitative", "scale": {"type": "log", "domain": [0.3, 2.42], "nice": false},
                  "axis": {"orient": "right", "values": [0.4,0.5,0.6,0.7,0.8,0.9,1,2], "labels": false, "grid": false, "title": null,
                           "tickSize": {"condition": {"test": "datum.value === 1", "value": -9}, "value": -5}}},
            "y2": {"datum": 0.359}
          }
        },
        {
          "data": {"values": [{}]},
          "mark": {"type": "text", "font": "DejaVu Sans", "fontSize": 15, "align": "center", "baseline": "middle", "color": "#1a1a1a"},
          "encoding": {
            "text": {"value": "only H+1"},
            "x": {"datum": -3.9, "type": "quantitative", "scale": {"domain": [-5, 4.93], "nice": false, "zero": false}, "axis": null},
            "y": {"datum": 0.428, "type": "quantitative", "scale": {"type": "log", "domain": [0.3, 2.42], "nice": false}, "axis": null}
          }
        }
      ]
    },
    {
      "width": 792,
      "height": 231,
      "title": {"text": "Ratio wrt. LO using mₜ → ∞ approximation.", "anchor": "end", "color": "#1c1c8c", "fontSize": 15, "fontWeight": "bold", "font": "DejaVu Sans", "offset": 4, "dx": -19},
      "data": {"name": "h"},
      "transform": [{"filter": "test(/2$/, datum.k)"}],
      "resolve": {"axis": {"x": "independent", "y": "independent"}},
      "layer": [
        {
          "mark": {"type": "rect", "clip": true},
          "encoding": {
            "x": {"field": "x0", "type": "quantitative", "scale": {"domain": [-5, 4.93], "nice": false, "zero": false},
                  "axis": {"orient": "bottom", "values": [-4, -2, 0, 2, 4], "labels": false, "ticks": false, "grid": true, "title": null}},
            "x2": {"field": "x1"},
            "y": {"field": "rlo", "type": "quantitative", "scale": {"type": "log", "domain": [0.3, 2.42], "nice": false},
                  "axis": {"orient": "left", "values": [1], "ticks": false, "grid": true, "labelPadding": 7, "labelExpr": "'10⁰'",
                           "title": "X / LO H+2", "titleFont": "DejaVu Sans", "titleFontSize": 19, "titlePadding": 19}},
            "y2": {"field": "rhi"},
            "fill": {"field": "k", "type": "nominal", "scale": {"domain": ["LO1","LO2","LO3","MT1","MT2","MT3","NLO1","NLO2","NLO3"], "range": ["#7cfc00","#b0c4de","#ffa500","#008000","#0000ff","#ff0000","#006400","#000080","#8b0000"]}, "legend": null},
            "fillOpacity": {"field": "k", "type": "ordinal", "scale": {"domain": ["NLO1","NLO2","NLO3","MT1","MT2","MT3","LO1","LO2","LO3"], "range": [0.75,0.75,0.75,0.75,0.75,0.75,0.6,0.6,0.6]}, "legend": null}
          }
        },
        {
          "transform": [{"fold": ["x0", "x1"], "as": ["edge", "xe"]}],
          "mark": {"type": "line", "clip": true, "strokeWidth": 1.6},
          "encoding": {
            "x": {"field": "xe", "type": "quantitative", "scale": {"domain": [-5, 4.93], "nice": false, "zero": false},
                  "axis": {"orient": "bottom", "values": [-4.5,-4,-3.5,-3,-2.5,-2,-1.5,-1,-0.5,0,0.5,1,1.5,2,2.5,3,3.5,4,4.5], "labels": false, "grid": false, "title": null,
                           "tickSize": {"condition": {"test": "datum.value % 2 === 0", "value": -9}, "value": -5}}},
            "y": {"field": "rc", "type": "quantitative", "scale": {"type": "log", "domain": [0.3, 2.42], "nice": false},
                  "axis": {"orient": "left", "values": [0.4,0.5,0.6,0.7,0.8,0.9,1,2], "labels": false, "grid": false, "title": null,
                           "tickSize": {"condition": {"test": "datum.value === 1", "value": -9}, "value": -5}}},
            "color": {"field": "k", "type": "nominal", "scale": {"domain": ["LO1","MT1","NLO1","LO2","MT2","NLO2","LO3","MT3","NLO3"], "range": ["#7cfc00","#008000","#006400","#b0c4de","#0000ff","#000080","#ffa500","#ff0000","#8b0000"]}, "legend": null},
            "order": [{"field": "x0", "type": "quantitative"}, {"field": "edge", "type": "ordinal"}]
          }
        },
        {
          "data": {"values": [{}]},
          "mark": {"type": "rect", "fill": "#00bfff", "stroke": "#000000", "strokeWidth": 2},
          "encoding": {
            "x": {"datum": -4.53, "type": "quantitative", "scale": {"domain": [-5, 4.93], "nice": false, "zero": false},
                  "axis": {"orient": "top", "values": [-4.5,-4,-3.5,-3,-2.5,-2,-1.5,-1,-0.5,0,0.5,1,1.5,2,2.5,3,3.5,4,4.5], "labels": false, "grid": false, "title": null,
                           "tickSize": {"condition": {"test": "datum.value % 2 === 0", "value": -9}, "value": -5}}},
            "x2": {"datum": -3.27},
            "y": {"datum": 0.509, "type": "quantitative", "scale": {"type": "log", "domain": [0.3, 2.42], "nice": false},
                  "axis": {"orient": "right", "values": [0.4,0.5,0.6,0.7,0.8,0.9,1,2], "labels": false, "grid": false, "title": null,
                           "tickSize": {"condition": {"test": "datum.value === 1", "value": -9}, "value": -5}}},
            "y2": {"datum": 0.359}
          }
        },
        {
          "data": {"values": [{}]},
          "mark": {"type": "text", "font": "DejaVu Sans", "fontSize": 15, "align": "center", "baseline": "middle", "color": "#1a1a1a"},
          "encoding": {
            "text": {"value": "only H+2"},
            "x": {"datum": -3.9, "type": "quantitative", "scale": {"domain": [-5, 4.93], "nice": false, "zero": false}, "axis": null},
            "y": {"datum": 0.428, "type": "quantitative", "scale": {"type": "log", "domain": [0.3, 2.42], "nice": false}, "axis": null}
          }
        }
      ]
    },
    {
      "width": 792,
      "height": 231,
      "title": {"text": "Ratio wrt. LO using mₜ → ∞ approximation.", "anchor": "end", "color": "#1c1c8c", "fontSize": 15, "fontWeight": "bold", "font": "DejaVu Sans", "offset": 4, "dx": -19},
      "data": {"name": "h"},
      "transform": [{"filter": "test(/3$/, datum.k)"}],
      "resolve": {"axis": {"x": "independent", "y": "independent"}},
      "layer": [
        {
          "mark": {"type": "rect", "clip": true},
          "encoding": {
            "x": {"field": "x0", "type": "quantitative", "scale": {"domain": [-5, 4.93], "nice": false, "zero": false},
                  "axis": {"orient": "bottom", "values": [-4, -2, 0, 2, 4], "labels": true, "ticks": false, "grid": true, "labelPadding": 6,
                           "title": "Higgs boson rapidity:  yₕ", "titleFont": "Liberation Serif", "titleFontSize": 24, "titlePadding": 2}},
            "x2": {"field": "x1"},
            "y": {"field": "rlo", "type": "quantitative", "scale": {"type": "log", "domain": [0.3, 2.42], "nice": false},
                  "axis": {"orient": "left", "values": [1], "ticks": false, "grid": true, "labelPadding": 7, "labelExpr": "'10⁰'",
                           "title": "X / LO H+3", "titleFont": "DejaVu Sans", "titleFontSize": 19, "titlePadding": 19}},
            "y2": {"field": "rhi"},
            "fill": {"field": "k", "type": "nominal", "scale": {"domain": ["LO1","LO2","LO3","MT1","MT2","MT3","NLO1","NLO2","NLO3"], "range": ["#7cfc00","#b0c4de","#ffa500","#008000","#0000ff","#ff0000","#006400","#000080","#8b0000"]}, "legend": null},
            "fillOpacity": {"field": "k", "type": "ordinal", "scale": {"domain": ["NLO1","NLO2","NLO3","MT1","MT2","MT3","LO1","LO2","LO3"], "range": [0.75,0.75,0.75,0.75,0.75,0.75,0.6,0.6,0.6]}, "legend": null}
          }
        },
        {
          "transform": [{"fold": ["x0", "x1"], "as": ["edge", "xe"]}],
          "mark": {"type": "line", "clip": true, "strokeWidth": 1.6},
          "encoding": {
            "x": {"field": "xe", "type": "quantitative", "scale": {"domain": [-5, 4.93], "nice": false, "zero": false},
                  "axis": {"orient": "bottom", "values": [-4.5,-4,-3.5,-3,-2.5,-2,-1.5,-1,-0.5,0,0.5,1,1.5,2,2.5,3,3.5,4,4.5], "labels": false, "grid": false, "title": null,
                           "tickSize": {"condition": {"test": "datum.value % 2 === 0", "value": -9}, "value": -5}}},
            "y": {"field": "rc", "type": "quantitative", "scale": {"type": "log", "domain": [0.3, 2.42], "nice": false},
                  "axis": {"orient": "left", "values": [0.4,0.5,0.6,0.7,0.8,0.9,1,2], "labels": false, "grid": false, "title": null,
                           "tickSize": {"condition": {"test": "datum.value === 1", "value": -9}, "value": -5}}},
            "color": {"field": "k", "type": "nominal", "scale": {"domain": ["LO1","MT1","NLO1","LO2","MT2","NLO2","LO3","MT3","NLO3"], "range": ["#7cfc00","#008000","#006400","#b0c4de","#0000ff","#000080","#ffa500","#ff0000","#8b0000"]}, "legend": null},
            "order": [{"field": "x0", "type": "quantitative"}, {"field": "edge", "type": "ordinal"}]
          }
        },
        {
          "data": {"values": [{}]},
          "mark": {"type": "rect", "fill": "#ffd700", "stroke": "#000000", "strokeWidth": 2},
          "encoding": {
            "x": {"datum": -4.53, "type": "quantitative", "scale": {"domain": [-5, 4.93], "nice": false, "zero": false},
                  "axis": {"orient": "top", "values": [-4.5,-4,-3.5,-3,-2.5,-2,-1.5,-1,-0.5,0,0.5,1,1.5,2,2.5,3,3.5,4,4.5], "labels": false, "grid": false, "title": null,
                           "tickSize": {"condition": {"test": "datum.value % 2 === 0", "value": -9}, "value": -5}}},
            "x2": {"datum": -3.27},
            "y": {"datum": 0.509, "type": "quantitative", "scale": {"type": "log", "domain": [0.3, 2.42], "nice": false},
                  "axis": {"orient": "right", "values": [0.4,0.5,0.6,0.7,0.8,0.9,1,2], "labels": false, "grid": false, "title": null,
                           "tickSize": {"condition": {"test": "datum.value === 1", "value": -9}, "value": -5}}},
            "y2": {"datum": 0.359}
          }
        },
        {
          "data": {"values": [{}]},
          "mark": {"type": "text", "font": "DejaVu Sans", "fontSize": 15, "align": "center", "baseline": "middle", "color": "#1a1a1a"},
          "encoding": {
            "text": {"value": "only H+3"},
            "x": {"datum": -3.9, "type": "quantitative", "scale": {"domain": [-5, 4.93], "nice": false, "zero": false}, "axis": null},
            "y": {"datum": 0.428, "type": "quantitative", "scale": {"type": "log", "domain": [0.3, 2.42], "nice": false}, "axis": null}
          }
        }
      ]
    }
  ]
}
